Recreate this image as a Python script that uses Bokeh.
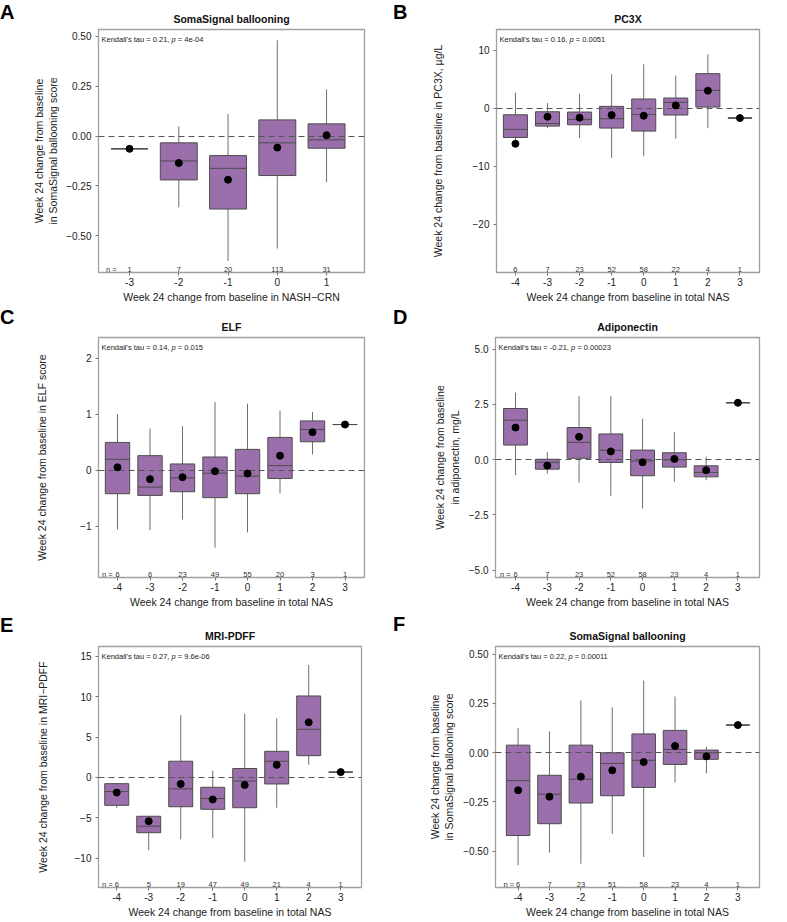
from bokeh.plotting import figure
from bokeh.layouts import row, column
from bokeh.models import Range1d, FixedTicker, Div
from bokeh.core.properties import value
from bokeh.embed import file_html
from bokeh.resources import INLINE

# ---------------- data ----------------
NAS = [-4, -3, -2, -1, 0, 1, 2, 3]
CRN = [-3, -2, -1, 0, 1]

# A: SomaSignal ballooning vs NASH-CRN
a_n = [1, 7, 20, 113, 31]
a_lo = [-0.064, -0.358, -0.626, -0.564, -0.232]
a_q1 = [-0.064, -0.220, -0.366, -0.198, -0.061]
a_med = [-0.064, -0.125, -0.162, -0.034, -0.019]
a_q3 = [-0.064, -0.034, -0.098, 0.081, 0.061]
a_hi = [-0.064, 0.048, 0.111, 0.480, 0.234]
a_mean = [-0.064, -0.135, -0.219, -0.058, 0.004]
a_yticks = [-0.5, -0.25, 0.0, 0.25, 0.5]
a_ylabels = ["\u22120.50", "\u22120.25", "0.00", "0.25", "0.50"]

# B: PC3X
b_n = [6, 7, 23, 52, 58, 22, 4, 1]
b_lo = [-5.5, -3.44, -5.17, -8.58, -8.29, -5.29, -3.44, -1.71]
b_q1 = [-5.06, -3.10, -2.87, -3.44, -3.96, -1.19, 0.19, -1.71]
b_med = [-3.67, -2.64, -1.94, -1.83, -1.08, 1.00, 3.08, -1.71]
b_q3 = [-1.14, -0.62, -0.67, 0.31, 1.58, 1.75, 5.96, -1.71]
b_hi = [2.67, 0.88, 2.50, 5.85, 7.58, 5.62, 9.31, -1.71]
b_mean = [-6.15, -1.48, -1.65, -1.19, -1.31, 0.48, 3.02, -1.71]
b_yticks = [-20, -10, 0, 10]
b_ylabels = ["\u221220", "\u221210", "0", "10"]

# C: ELF
c_n = [6, 6, 23, 49, 55, 20, 3, 1]
c_lo = [-1.059, -1.071, -0.882, -1.384, -1.112, -0.415, 0.281, 0.813]
c_q1 = [-0.421, -0.451, -0.386, -0.492, -0.421, -0.150, 0.506, 0.813]
c_med = [0.193, -0.303, -0.138, -0.055, -0.108, 0.081, 0.724, 0.813]
c_q3 = [0.494, 0.258, 0.110, 0.234, 0.370, 0.583, 0.878, 0.813]
c_hi = [0.996, 0.742, 0.783, 1.215, 1.185, 1.061, 1.037, 0.813]
c_mean = [0.051, -0.161, -0.126, -0.020, -0.061, 0.258, 0.677, 0.813]
c_yticks = [-1, 0, 1, 2]
c_ylabels = ["\u22121", "0", "1", "2"]

# D: Adiponectin
d_n = [6, 7, 23, 52, 58, 23, 4, 1]
d_lo = [-0.70, -0.63, -1.04, -1.64, -2.21, -1.01, -0.93, 2.57]
d_q1 = [0.657, -0.433, 0.06, -0.13, -0.73, -0.34, -0.78, 2.57]
d_med = [1.78, -0.12, 0.78, 0.42, -0.06, -0.01, -0.58, 2.57]
d_q3 = [2.31, 0.015, 1.45, 1.16, 0.43, 0.31, -0.28, 2.57]
d_hi = [3.03, 0.34, 2.87, 2.87, 1.85, 1.24, 0.13, 2.57]
d_mean = [1.45, -0.27, 1.03, 0.37, -0.12, 0.03, -0.48, 2.57]
d_yticks = [-5.0, -2.5, 0.0, 2.5, 5.0]
d_ylabels = ["\u22125.0", "\u22122.5", "0.0", "2.5", "5.0"]

# E: MRI-PDFF
e_n = [6, 5, 19, 47, 49, 21, 4, 1]
e_lo = [-3.79, -9.02, -7.67, -7.51, -10.45, -3.75, 1.56, 0.66]
e_q1 = [-3.46, -6.85, -3.63, -3.95, -3.75, -0.81, 2.70, 0.66]
e_med = [-1.75, -6.04, -1.42, -2.61, -0.44, 2.01, 5.97, 0.66]
e_q3 = [-0.77, -4.81, 2.01, -1.22, 1.11, 3.24, 10.10, 0.66]
e_hi = [-0.77, -4.81, 7.73, 0.83, 7.93, 7.32, 13.94, 0.66]
e_mean = [-1.87, -5.42, -0.81, -2.73, -0.93, 1.56, 6.83, 0.66]
e_yticks = [-10, -5, 0, 5, 10, 15]
e_ylabels = ["\u221210", "\u22125", "0", "5", "10", "15"]

# F: SomaSignal ballooning vs total NAS
f_n = [6, 7, 23, 51, 58, 23, 4, 1]
f_lo = [-0.572, -0.508, -0.564, -0.413, -0.530, -0.152, -0.105, 0.140]
f_q1 = [-0.421, -0.361, -0.256, -0.219, -0.177, -0.060, -0.034, 0.140]
f_med = [-0.142, -0.211, -0.135, -0.055, -0.039, 0.016, -0.001, 0.140]
f_q3 = [0.038, -0.115, 0.038, -0.001, 0.095, 0.113, 0.013, 0.140]
f_hi = [0.125, 0.108, 0.265, 0.231, 0.366, 0.285, 0.029, 0.140]
f_mean = [-0.191, -0.224, -0.122, -0.090, -0.048, 0.034, -0.019, 0.140]
f_yticks = [-0.5, -0.25, 0.0, 0.25, 0.5]
f_ylabels = ["\u22120.50", "\u22120.25", "0.00", "0.25", "0.50"]

titles = ["SomaSignal ballooning", "PC3X", "ELF", "Adiponectin", "MRI-PDFF", "SomaSignal ballooning"]
letters = ["A", "B", "C", "D", "E", "F"]
taus = ["0.21", "0.16", "0.14", "-0.21", "0.27", "0.22"]
pvals = ["4e-04", "0.0051", "0.015", "0.00023", "9.6e-06", "0.00011"]
xlab_crn = "Week 24 change from baseline in NASH\u2212CRN"
xlab_nas = "Week 24 change from baseline in total NAS"
ylabs = [
    "Week 24 change from baseline\nin SomaSignal ballooning score",
    "Week 24 change from baseline in PC3X, \u00b5g/L",
    "Week 24 change from baseline in ELF score",
    "Week 24 change from baseline\nin adiponectin, mg/L",
    "Week 24 change from baseline in MRI\u2212PDFF",
    "Week 24 change from baseline\nin SomaSignal ballooning score",
]

# ---------------- style ----------------
FONT = "Liberation Sans"
BOX_FILL = "#9a6fab"
BOX_LINE = "#4d4d4d"
WHISK = "#6e6e6e"
BOX_W = 0.75
LW = 18  # width of the letter column

ARIAL = {"K": 667, "e": 556, "n": 556, "d": 556, "a": 556, "l": 222, "'": 191, "s": 500,
         " ": 278, "t": 278, "u": 556, "=": 584, ".": 278, ",": 278, "-": 333, "p": 556}


def tw(s, fs):
    return sum(ARIAL.get(ch, 556) for ch in s) / 1000.0 * fs


def letter_div(letter, height, pad_top):
    return Div(text=letter, width=LW, height=height, margin=(0, 0, 0, 0),
               styles={"font-family": FONT, "font-size": "20px", "font-weight": "bold",
                       "line-height": "20px", "padding-top": "%dpx" % pad_top,
                       "color": "black", "box-sizing": "border-box"})


def panel(title, xs, n, lo, q1, med, q3, hi, mean, tau, pval, xlab, ylab,
          yticks, ylabels, xr, yr, L, FW, R, T, FH, B, ylab_standoff, n_prefix,
          n_pref_off):
    W = L + FW + R
    H = T + FH + B
    p = figure(width=W, height=H, x_range=Range1d(*xr), y_range=Range1d(*yr),
               min_border_left=L, min_border_right=R, min_border_top=T,
               min_border_bottom=B, output_backend="svg", toolbar_location=None,
               background_fill_color="white", border_fill_color="white")
    p.grid.visible = False
    p.outline_line_color = "#a0a0a0"
    p.outline_line_width = 1.3

    p.title.text = title
    p.title.text_font = FONT
    p.title.text_font_size = "10.5px"
    p.title.text_font_style = "bold"
    p.title.align = "center"
    p.title.standoff = 10
    p.title.text_color = "#111111"

    for ax in (p.xaxis[0], p.yaxis[0]):
        ax.axis_line_color = None
        ax.major_tick_line_color = "#777777"
        ax.major_tick_out = 3
        ax.major_tick_in = 0
        ax.minor_tick_line_color = None
        ax.major_label_text_font = FONT
        ax.major_label_text_font_size = "10px"
        ax.major_label_text_color = "#222222"
        ax.axis_label_text_font = FONT
        ax.axis_label_text_font_size = "10.5px"
        ax.axis_label_text_font_style = "normal"
        ax.axis_label_text_color = "#222222"
    p.xaxis.ticker = FixedTicker(ticks=xs)
    p.xaxis.major_label_overrides = {float(x): str(x) for x in xs}
    p.xaxis.major_label_standoff = 2
    p.xaxis.axis_label = xlab
    p.xaxis.axis_label_standoff = 2
    p.yaxis.ticker = FixedTicker(ticks=yticks)
    p.yaxis.major_label_overrides = {float(t): s for t, s in zip(yticks, ylabels)}
    p.yaxis.major_label_standoff = 4
    p.yaxis.axis_label = ylab
    p.yaxis.axis_label_standoff = ylab_standoff

    # whiskers
    p.segment(x0=xs, x1=xs, y0=lo, y1=hi, line_color=WHISK, line_width=1)
    # boxes
    p.vbar(x=xs, width=BOX_W, bottom=q1, top=q3, fill_color=BOX_FILL,
           line_color=BOX_LINE, line_width=1)
    # medians
    p.segment(x0=[x - BOX_W / 2 for x in xs], x1=[x + BOX_W / 2 for x in xs],
              y0=med, y1=med, line_color=BOX_LINE, line_width=1)
    # zero reference line
    p.hspan(y=[0], line_color="#555555", line_width=1, line_dash="6 4")
    # means
    p.scatter(x=xs, y=mean, size=7, fill_color="black", line_color="black")

    # n counts
    ybot = yr[0]
    p.text(x=xs, y=[ybot] * len(xs), text=[str(v) for v in n], text_align="center",
           text_baseline="alphabetic", y_offset=-3, text_font=value(FONT),
           text_font_size="7.5px", text_color="#333333")
    if n_prefix:
        p.text(x=[xs[0]], y=[ybot], text=["n ="], text_align="right",
               text_baseline="alphabetic", x_offset=n_pref_off, y_offset=-3,
               text_font=value(FONT), text_font_size="7.5px", text_color="#333333")

    # Kendall annotation with italic p
    fs = 7.5
    pre = "Kendall's tau = %s," % tau
    post = "= %s" % pval
    x0 = 3
    for txt, off, style in ((pre, x0, "normal"),
                            ("p", x0 + tw(pre + " ", fs), "italic"),
                            (post, x0 + tw(pre + " p ", fs), "normal")):
        p.text(x=[xr[0]], y=[yr[1]], text=[txt], text_align="left",
               text_baseline="alphabetic", x_offset=off, y_offset=9.5,
               text_font=value(FONT), text_font_size="7.5px",
               text_font_style=style, text_color="#222222")
    return p


pa = panel(titles[0], CRN, a_n, a_lo, a_q1, a_med, a_q3, a_hi, a_mean, taus[0], pvals[0],
           xlab_crn, ylabs[0], a_yticks, a_ylabels, (-3.63, 1.77), (-0.684, 0.534),
           98 - LW, 266, 29, 29, 243, 33, 4, True, -13)
pb = panel(titles[1], NAS, b_n, b_lo, b_q1, b_med, b_q3, b_hi, b_mean, taus[1], pvals[1],
           xlab_nas, ylabs[1], b_yticks, b_ylabels, (-4.59, 3.61), (-28.37, 13.58),
           103 - LW, 263, 28, 29, 243, 33, 26, False, -5)
pc = panel(titles[2], NAS, c_n, c_lo, c_q1, c_med, c_q3, c_hi, c_mean, taus[2], pvals[2],
           xlab_nas, ylabs[2], c_yticks, c_ylabels, (-4.585, 3.6), (-1.916, 2.366),
           98 - LW, 266, 29, 32, 241, 32, 29, True, -5)
pd_ = panel(titles[3], NAS, d_n, d_lo, d_q1, d_med, d_q3, d_hi, d_mean, taus[3], pvals[3],
            xlab_nas, ylabs[3], d_yticks, d_ylabels, (-4.63, 3.68), (-5.33, 5.52),
            102 - LW, 264, 28, 32, 241, 32, 5, True, -5)
pe = panel(titles[4], NAS, e_n, e_lo, e_q1, e_med, e_q3, e_hi, e_mean, taus[4], pvals[4],
           xlab_nas, ylabs[4], e_yticks, e_ylabels, (-4.57, 3.65), (-13.64, 16.23),
           98 - LW, 263, 32, 36, 243, 31, 23, True, -4)
pf = panel(titles[5], NAS, f_n, f_lo, f_q1, f_med, f_q3, f_hi, f_mean, taus[5], pvals[5],
           xlab_nas, ylabs[5], f_yticks, f_ylabels, (-4.72, 3.69), (-0.685, 0.539),
           102 - LW, 264, 28, 36, 243, 31, 5, True, -4)

layout = column(
    row(letter_div(letters[0], 305, 2), pa, letter_div(letters[1], 305, 2), pb),
    row(letter_div(letters[2], 305, 2), pc, letter_div(letters[3], 305, 2), pd_),
    row(letter_div(letters[4], 310, 5), pe, letter_div(letters[5], 310, 4), pf),
)

open("out.html", "w").write(file_html(layout, INLINE))
